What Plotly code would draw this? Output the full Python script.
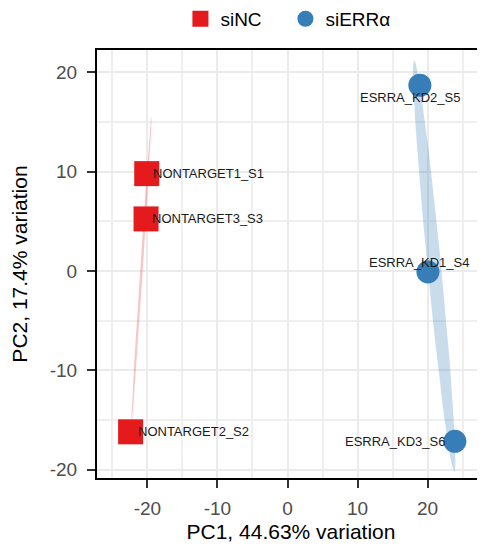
import numpy as np
import plotly.graph_objects as go

# ---------------- data ----------------
sample_names = ["NONTARGET1_S1", "NONTARGET2_S2", "NONTARGET3_S3",
                "ESRRA_KD1_S4", "ESRRA_KD2_S5", "ESRRA_KD3_S6"]
groups = ["siNC", "siNC", "siNC", "siERRα", "siERRα", "siERRα"]
pc1 = [-20.1, -22.4, -20.2, 20.05, 18.9, 23.9]
pc2 = [9.8, -16.2, 5.24, -0.1, 18.7, -17.15]

group_order = ["siNC", "siERRα"]
x_tick_vals = [-20, -10, 0, 10, 20]
x_tick_text = ["-20", "-10", "0", "10", "20"]
y_tick_vals = [-20, -10, 0, 10, 20]
y_tick_text = ["-20", "-10", "0", "10", "20"]
x_title = "PC1, 44.63% variation"
y_title = "PC2, 17.4% variation"
ellipse_level = 0.5

# ---------------- styles ----------------
colors = {"siNC": "#E41A1C", "siERRα": "#377EB8"}
fills = {"siNC": "rgba(228,26,28,0.25)", "siERRα": "rgba(55,126,184,0.27)"}
symbols = {"siNC": "square", "siERRα": "circle"}
sizes = {"siNC": 25, "siERRα": 23}
label_style = {
    "NONTARGET1_S1": ("left", 4, 0),
    "NONTARGET2_S2": ("left", 5, 0),
    "NONTARGET3_S3": ("left", 4, 0),
    "ESRRA_KD1_S4": ("center", -9, 9),
    "ESRRA_KD2_S5": ("center", -10, -12),
    "ESRRA_KD3_S6": ("right", -8, 0),
}
FONT = "Liberation Sans, Arial, Helvetica, sans-serif"
TICK_LEN = 8


def t_ellipse(xs, ys, level, segments=72):
    pts = np.column_stack([xs, ys]).astype(float)
    n = len(pts)
    center = pts.mean(axis=0)
    X = pts - center
    cov = X.T @ X / n
    U = np.linalg.cholesky(cov).T
    dfd = n - 1
    qf = dfd / 2.0 * ((1 - level) ** (-2.0 / dfd) - 1)
    radius = np.sqrt(2 * qf)
    ang = np.linspace(0, 2 * np.pi, segments + 1)
    circ = np.column_stack([np.cos(ang), np.sin(ang)])
    ell = center + radius * circ @ U
    return ell[:, 0], ell[:, 1]


fig = go.Figure()

for g in group_order:
    idx = [i for i, gg in enumerate(groups) if gg == g]
    ex, ey = t_ellipse([pc1[i] for i in idx], [pc2[i] for i in idx], ellipse_level)
    fig.add_trace(go.Scatter(x=ex, y=ey, mode="lines", fill="toself",
                             fillcolor=fills[g], line=dict(width=0),
                             showlegend=False, hoverinfo="skip"))

for g in group_order:
    idx = [i for i, gg in enumerate(groups) if gg == g]
    fig.add_trace(go.Scatter(
        x=[pc1[i] for i in idx], y=[pc2[i] for i in idx], mode="markers",
        name=g,
        marker=dict(symbol=symbols[g], size=sizes[g], color=colors[g],
                    line=dict(width=0)),
    ))

for i, name in enumerate(sample_names):
    xa, xs, ys = label_style[name]
    fig.add_annotation(x=pc1[i], y=pc2[i], text=name, showarrow=False,
                       xanchor=xa, yanchor="middle", xshift=xs, yshift=ys,
                       font=dict(family=FONT, size=13, color="#1A1A1A"))

tickfont = dict(family=FONT, size=19, color="#4D4D4D")
minor = dict(dtick=5, tick0=0, showgrid=True, gridcolor="#EFEFEF", gridwidth=1.5, ticks="")

fig.update_layout(
    width=485, height=545,
    margin=dict(l=89, r=8, t=42, b=75, pad=0),
    plot_bgcolor="white", paper_bgcolor="white",
    font=dict(family=FONT),
    legend=dict(orientation="h", x=0.215, xanchor="left", y=0.98, yref="container",
                yanchor="middle", font=dict(family=FONT, size=19, color="black"),
                itemsizing="trace", entrywidth=60, bgcolor="rgba(0,0,0,0)"),
    xaxis=dict(
        range=[-27.2, 28.2], tickmode="array", tickvals=x_tick_vals, ticktext=x_tick_text,
        showline=True, linecolor="black", linewidth=2, mirror=True,
        ticks="outside", ticklen=TICK_LEN, tickwidth=2, tickcolor="#333333",
        ticklabelstandoff=4,
        tickfont=tickfont, showgrid=True, gridcolor="#EBEBEB", gridwidth=2, zeroline=False,
        minor=minor,
        title=dict(text=x_title, font=dict(family=FONT, size=21, color="black"), standoff=7),
    ),
    yaxis=dict(
        range=[-20.85, 22.25], tickmode="array", tickvals=y_tick_vals, ticktext=y_tick_text,
        showline=True, linecolor="black", linewidth=2, mirror=False,
        ticks="outside", ticklen=TICK_LEN, tickwidth=2, tickcolor="#333333",
        ticklabelstandoff=6,
        tickfont=tickfont, showgrid=True, gridcolor="#EBEBEB", gridwidth=2, zeroline=False,
        minor=minor,
        title=dict(text=y_title, font=dict(family=FONT, size=21, color="black"), standoff=17),
    ),
)

fig.write_html("out.html")
